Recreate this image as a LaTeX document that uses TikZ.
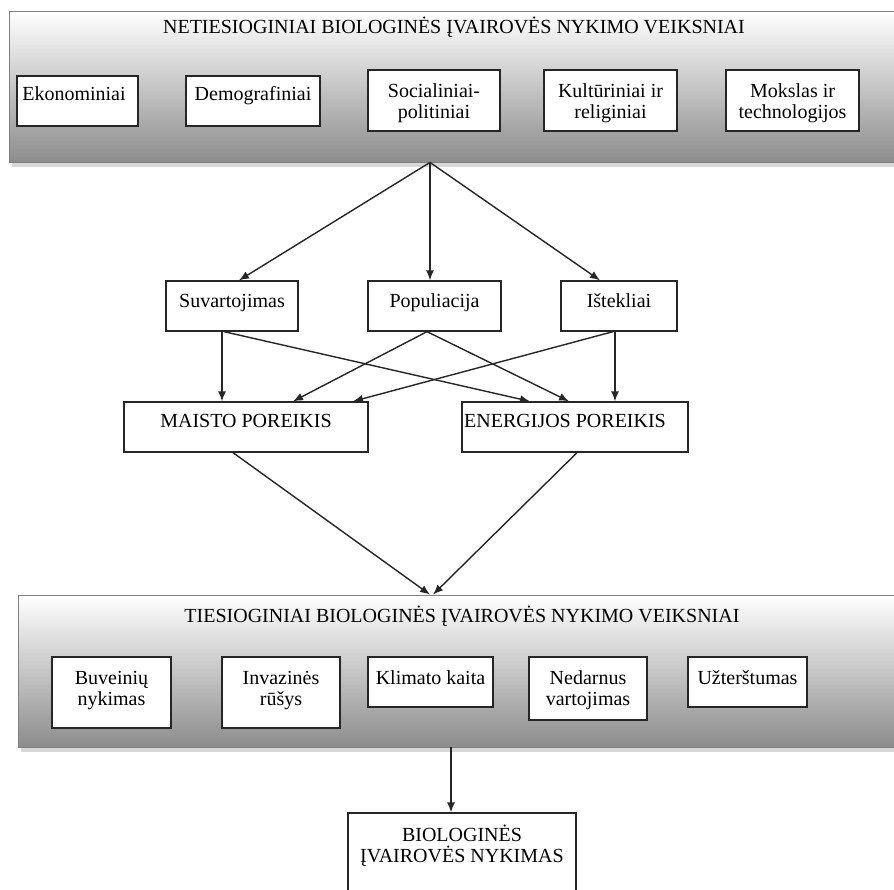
\documentclass[tikz,border=0pt]{standalone}
\usepackage{fontspec}
\setmainfont{Liberation Serif}
\usetikzlibrary{arrows.meta,shadows}
\newcommand\mystrut{\rule{0pt}{17pt}}
\begin{document}
\begin{tikzpicture}[x=1pt,y=-1pt,
  panel/.style={draw=black!50, line width=0.8pt, top color=white, bottom color=black!45, inner sep=0pt,
    drop shadow={shadow xshift=3pt, shadow yshift=-5pt, fill=black!30, opacity=0.5}},
  bx/.style={draw=black!85, line width=1.3pt, fill=white, inner sep=0pt},
  txt/.style={anchor=north, inner sep=0pt, align=center, font=\fontsize{20}{21}\selectfont},
  arr/.style={draw=black!85, line width=1.4pt, -{Latex[length=10pt,width=8pt]}}]
\useasboundingbox (0,0) rectangle (894,889);

% panels
\node[panel, minimum width=891pt, minimum height=151pt] (p1) at (454.5,86.5) {};
\node[panel, minimum width=882pt, minimum height=152pt] (p2) at (459,671) {};

% top boxes
\node[bx, minimum width=121pt, minimum height=50pt] (eko) at (77.5,101) {};
\node[bx, minimum width=134pt, minimum height=50pt] (demo) at (253,101) {};
\node[bx, minimum width=132pt, minimum height=61pt] (soc) at (434,100.5) {};
\node[bx, minimum width=133pt, minimum height=61pt] (kul) at (610.5,100.5) {};
\node[bx, minimum width=133pt, minimum height=61pt] (mok) at (792.5,100.5) {};

% middle boxes
\node[bx, minimum width=132pt, minimum height=50pt] (suv) at (232,306) {};
\node[bx, minimum width=133pt, minimum height=50pt] (pop) at (434.5,306) {};
\node[bx, minimum width=116pt, minimum height=50pt] (ist) at (619,306) {};
\node[bx, minimum width=244pt, minimum height=50pt] (mai) at (246,427) {};
\node[bx, minimum width=226pt, minimum height=50pt] (ene) at (575,427) {};

% bottom panel boxes
\node[bx, minimum width=119pt, minimum height=71pt] (buv) at (111.5,692.5) {};
\node[bx, minimum width=118pt, minimum height=71pt] (inv) at (281,692.5) {};
\node[bx, minimum width=125pt, minimum height=50pt] (kli) at (430.5,682) {};
\node[bx, minimum width=118pt, minimum height=63pt] (ned) at (588,688.5) {};
\node[bx, minimum width=119pt, minimum height=50pt] (uzt) at (747.5,682) {};

% final box
\node[bx, minimum width=228pt, minimum height=87pt] (bio) at (462,856.5) {};

% texts
\node[txt] (t1) at (454,16) {\mystrut NETIESIOGINIAI BIOLOGINĖS ĮVAIROVĖS NYKIMO VEIKSNIAI};
\node[txt] (teko) at (74,83) {\mystrut Ekonominiai};
\node[txt] (tdemo) at (253,83) {\mystrut Demografiniai};
\node[txt] (tsoc) at (434,80) {\mystrut Socialiniai-\\politiniai};
\node[txt] (tkul) at (610.5,80) {\mystrut Kultūriniai ir\\religiniai};
\node[txt] (tmok) at (792.5,80) {\mystrut Mokslas ir\\technologijos};

\node[txt] (tsuv) at (232,290) {\mystrut Suvartojimas};
\node[txt] (tpop) at (434.5,290) {\mystrut Populiacija};
\node[txt] (tist) at (619,290) {\mystrut Ištekliai};
\node[txt] (tmai) at (246,410) {\mystrut MAISTO POREIKIS};
\node[txt, anchor=north west] (tene) at (464,410) {\mystrut ENERGIJOS POREIKIS};

\node[txt] (t2) at (462,605) {\mystrut TIESIOGINIAI BIOLOGINĖS ĮVAIROVĖS NYKIMO VEIKSNIAI};
\node[txt] (tbuv) at (111.5,667) {\mystrut Buveinių\\nykimas};
\node[txt] (tinv) at (281,667) {\mystrut Invazinės\\rūšys};
\node[txt] (tkli) at (430.5,667) {\mystrut Klimato kaita};
\node[txt] (tned) at (588,667) {\mystrut Nedarnus\\vartojimas};
\node[txt] (tuzt) at (747.5,667) {\mystrut Užterštumas};

\node[txt] (tbio) at (462,824) {\mystrut BIOLOGINĖS\\ĮVAIROVĖS NYKIMAS};

% connectors
\draw[arr] ([xshift=-24.5pt]p1.south) -- ([xshift=7pt]suv.north);
\draw[arr] ([xshift=-24.5pt]p1.south) -- ([xshift=-4.5pt]pop.north);
\draw[arr] ([xshift=-24.5pt]p1.south) -- ([xshift=-19pt]ist.north);

\draw[arr] ([xshift=-10pt]suv.south) -- ([xshift=-24pt]mai.north);
\draw[arr] ([xshift=-8pt]suv.south) -- ([xshift=-45pt]ene.north);
\draw[arr] ([xshift=-7.5pt]pop.south) -- ([xshift=47pt]mai.north);
\draw[arr] ([xshift=-7.5pt]pop.south) -- ([xshift=-6pt]ene.north);
\draw[arr] ([xshift=-6pt]ist.south) -- ([xshift=107pt]mai.north);
\draw[arr] ([xshift=-4pt]ist.south) -- ([xshift=40pt]ene.north);

\draw[arr] ([xshift=-13pt]mai.south) -- ([xshift=-29pt]p2.north);
\draw[arr] ([xshift=2pt]ene.south) -- ([xshift=-26pt]p2.north);

\draw[arr] ([xshift=-8pt]p2.south) -- ([xshift=-11pt]bio.north);
\end{tikzpicture}
\end{document}
